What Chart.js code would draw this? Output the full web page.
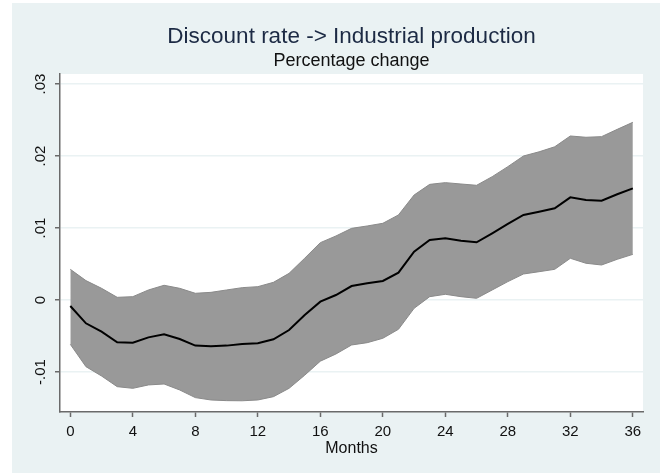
<!DOCTYPE html>
<html>
<head>
<meta charset="utf-8">
<script src="https://cdn.jsdelivr.net/npm/chart.js@4.4.1/dist/chart.umd.min.js"></script>
<style>
  html, body { margin: 0; padding: 0; background: #ffffff; }
  #wrap { position: relative; width: 663px; height: 473px; }
</style>
</head>
<body>
<div id="wrap"><canvas id="irf" width="663" height="473"></canvas></div>
<script>
// Impulse response: discount rate shock -> industrial production
const months = [0,1,2,3,4,5,6,7,8,9,10,11,12,13,14,15,16,17,18,19,20,21,22,23,24,25,26,27,28,29,30,31,32,33,34,35,36];
const response = [-0.00083,-0.00324,-0.0044,-0.00588,-0.00593,-0.00519,-0.00477,-0.00542,-0.00634,-0.00643,-0.00634,-0.00611,-0.00602,-0.00546,-0.00417,-0.0021,-0.00023,0.00069,0.00194,0.00231,0.00264,0.0038,0.00671,0.00833,0.00856,0.00824,0.00801,0.00926,0.01056,0.01181,0.01227,0.01273,0.01426,0.01389,0.0138,0.01468,0.01551];
const upperBand = [0.00426,0.00269,0.00162,0.00037,0.00046,0.00139,0.00204,0.00162,0.00093,0.00106,0.00139,0.00171,0.00185,0.00245,0.0037,0.0058,0.00796,0.00889,0.00995,0.01028,0.01065,0.01181,0.01458,0.01606,0.0163,0.01611,0.01593,0.01713,0.01852,0.02,0.02058,0.02128,0.02278,0.0226,0.02269,0.0237,0.02468];
const lowerBand = [-0.00616,-0.00926,-0.01056,-0.01204,-0.01227,-0.0118,-0.01167,-0.0125,-0.01356,-0.01389,-0.01398,-0.014,-0.01389,-0.01343,-0.01227,-0.01045,-0.0085,-0.0075,-0.00625,-0.00593,-0.00532,-0.00407,-0.00116,0.00046,0.00079,0.00046,0.00023,0.00139,0.00255,0.00361,0.00393,0.00426,0.00579,0.0051,0.00486,0.00565,0.00634];
const monthTicks = [0,4,8,12,16,20,24,28,32,36];
const yTicks = [-0.01,0,0.01,0.02,0.03];
const yTickLabels = ['-.01','0','.01','.02','.03'];

const FONT = "'Liberation Sans', Arial, sans-serif";
const pts = arr => months.map((m, i) => ({ x: m, y: arr[i] }));

// Light graph-region background with a white plot region
const backdrop = {
  id: 'backdrop',
  beforeDraw(chart) {
    const { ctx, chartArea: a } = chart;
    ctx.save();
    ctx.fillStyle = '#eaf2f3';
    ctx.fillRect(12, 3, 648, 470);
    ctx.fillStyle = '#ffffff';
    ctx.fillRect(a.left, a.top, a.right - a.left, a.bottom - a.top);
    ctx.restore();
  }
};

new Chart(document.getElementById('irf'), {
  type: 'line',
  data: {
    datasets: [
      { label: 'irf', data: pts(response), borderColor: '#000000', borderWidth: 2, pointRadius: 0, fill: false, tension: 0 },
      { label: 'lower', data: pts(lowerBand), borderColor: '#8a8a8a', borderWidth: 1, pointRadius: 0, fill: false, tension: 0 },
      { label: 'upper', data: pts(upperBand), borderColor: '#8a8a8a', borderWidth: 1, pointRadius: 0, fill: 1, backgroundColor: '#999999', tension: 0 }
    ]
  },
  options: {
    responsive: false,
    animation: false,
    devicePixelRatio: 1,
    layout: { padding: { left: 12, right: 20, top: 10, bottom: 16 } },
    plugins: {
      legend: { display: false },
      tooltip: { enabled: false },
      title: {
        display: true,
        fullSize: false,
        text: 'Discount rate -> Industrial production',
        color: '#1c2a44',
        font: { family: FONT, size: 22.5, weight: 'normal', lineHeight: 1.2 },
        padding: { top: 13.5, bottom: 0 }
      },
      subtitle: {
        display: true,
        fullSize: false,
        text: 'Percentage change',
        color: '#111111',
        font: { family: FONT, size: 18, weight: 'normal', lineHeight: 1.2 },
        padding: { top: 0, bottom: 1.9 }
      }
    },
    scales: {
      x: {
        type: 'linear',
        min: -0.66,
        max: 36.65,
        afterBuildTicks(scale) { scale.ticks = monthTicks.map(v => ({ value: v })); },
        afterFit(scale) { scale.height = 45; },
        ticks: {
          color: '#111111',
          font: { family: FONT, size: 15, lineHeight: 1 },
          padding: 7.5,
          maxRotation: 0,
          autoSkip: false,
          callback: v => String(v)
        },
        grid: { drawOnChartArea: false, drawTicks: true, tickLength: 5, tickColor: '#6a6a6a', tickWidth: 1.5 },
        border: { display: true, color: '#6a6a6a', width: 1.5 },
        title: {
          display: true,
          text: 'Months',
          color: '#111111',
          font: { family: FONT, size: 16, lineHeight: 1 },
          padding: { top: 0, bottom: 0 }
        }
      },
      y: {
        type: 'linear',
        min: -0.01556,
        max: 0.03139,
        afterBuildTicks(scale) { scale.ticks = yTicks.map(v => ({ value: v })); },
        afterFit(scale) { scale.width = 48; },
        ticks: {
          color: '#111111',
          font: { family: FONT, size: 15, lineHeight: 1 },
          minRotation: 90,
          maxRotation: 90,
          crossAlign: 'center',
          padding: 1,
          autoSkip: false,
          callback: (v) => { const i = yTicks.indexOf(v); return i >= 0 ? yTickLabels[i] : ''; }
        },
        grid: { drawOnChartArea: true, color: '#eaf2f3', lineWidth: 1.5, drawTicks: true, tickLength: 5, tickColor: '#6a6a6a', tickWidth: 1.5 },
        border: { display: true, color: '#6a6a6a', width: 1.5 }
      }
    }
  },
  plugins: [backdrop]
});
</script>
</body>
</html>
